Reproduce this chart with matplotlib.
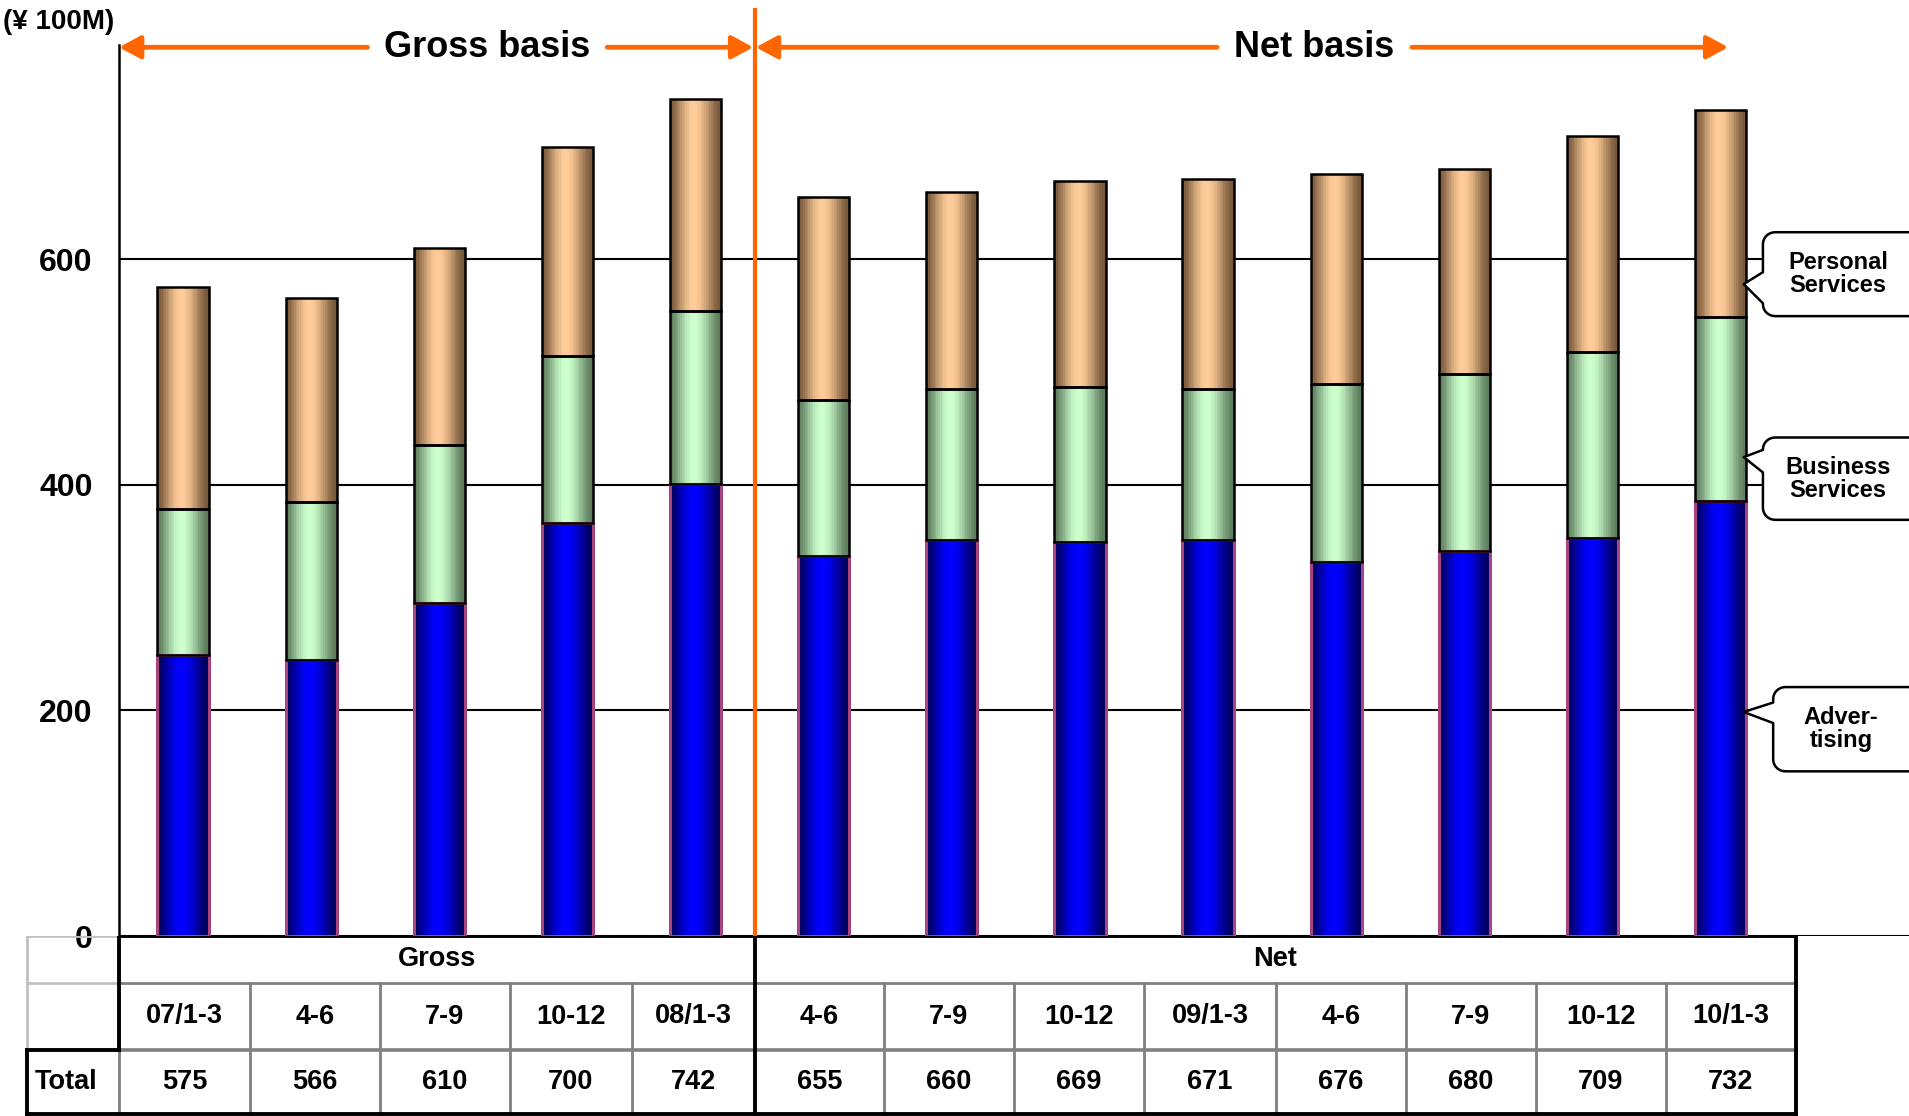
import numpy as np
import matplotlib
matplotlib.use("Agg")
import matplotlib.pyplot as plt
from matplotlib.patches import Polygon

plt.rcParams['font.family'] = ['Liberation Sans', 'DejaVu Sans']

# data (¥100M)
periods = ['07/1-3', '4-6', '7-9', '10-12', '08/1-3',
           '4-6', '7-9', '10-12', '09/1-3', '4-6', '7-9', '10-12', '10/1-3']
advertising = [249, 245, 295, 366, 401, 337, 351, 349, 351, 332, 341, 353, 386]
business = [130, 140, 140, 148, 153, 138, 134, 138, 134, 157, 157, 165, 163]
totals = [575, 566, 610, 700, 742, 655, 660, 669, 671, 676, 680, 709, 732]
personal = [t - a - b for t, a, b in zip(totals, advertising, business)]

ORANGE = '#FF6600'
W, H = 1909, 1116
fig = plt.figure(figsize=(W / 100, H / 100), dpi=100)

x_left, x_right = -0.5, 13.47
ax = fig.add_axes([119 / W, 180 / H, 1 - 119 / W, 891 / H])
x = np.arange(len(periods))
sep = 4.46
bw = 0.4

segments = [
    (advertising, [0] * len(x), (0.0, 0.0, 0.36), (0.0, 0.0, 1.0), '#A8457E', 2.2),
    (business, advertising, (0.36, 0.48, 0.36), (0.80, 1.0, 0.80), 'black', 1.8),
    (personal, [a + b for a, b in zip(advertising, business)],
     (0.46, 0.34, 0.22), (1.0, 0.80, 0.60), 'black', 1.8),
]

# cylinder-like shading: thin vertical strips across each bar
n_strips = 30
tt = (np.arange(n_strips) + 0.5) / n_strips
prof = np.sin(np.pi * tt ** 0.92) ** 1.7
for vals, bottoms, dark, light, ec, elw in segments:
    for k in range(n_strips):
        c = np.array(dark) + (np.array(light) - np.array(dark)) * prof[k]
        off = -bw / 2 + (k + 0.5) * bw / n_strips
        ax.bar(x + off, vals, width=bw / n_strips * 1.05, bottom=bottoms,
               color=tuple(c), linewidth=0, antialiased=False, zorder=2)
    ax.bar(x, vals, width=bw, bottom=bottoms, fill=False,
           edgecolor=ec, linewidth=elw, zorder=3)

ax.set_xlim(x_left, x_right)
ax.set_ylim(0, 790)
ax.set_yticks([0, 200, 400, 600])
ax.set_xticks([])
ax.tick_params(axis='y', length=0, pad=19, labelsize=23)
for lab in ax.get_yticklabels():
    lab.set_fontweight('bold')
ax.yaxis.grid(True, color='black', linewidth=1.5)
ax.set_axisbelow(True)
for s in ['top', 'right', 'bottom']:
    ax.spines[s].set_visible(False)
ax.spines['left'].set_linewidth(1.8)

# orange separator and basis arrows
ax.plot([sep, sep], [0, 821], color=ORANGE, lw=3, clip_on=False, zorder=4)
arrow_y = 788
aprops = dict(arrowstyle='-|>,head_length=1.3,head_width=0.7', color=ORANGE,
              lw=3.4, shrinkA=0, shrinkB=0, mutation_scale=10)
for start, tip in [(1.44, -0.5), (3.31, sep - 0.01), (8.07, sep + 0.01), (9.59, 12.06)]:
    ax.annotate('', xy=(tip, arrow_y), xytext=(start, arrow_y),
                arrowprops=aprops, annotation_clip=False)
ax.text(2.37, arrow_y, 'Gross basis', ha='center', va='center', fontsize=26,
        fontweight='bold', clip_on=False)
ax.text(8.83, arrow_y, 'Net basis', ha='center', va='center', fontsize=26,
        fontweight='bold', clip_on=False)

fig.text(3 / W, 1 - 22 / H, '(¥ 100M)', ha='left', va='center', fontsize=20,
         fontweight='bold')


# speech-bubble callouts: box left edge, box bottom/top, wedge base, wedge tip
def bubble(x0, y0, y1, wb, wt, tip, x1=13.9, rx=0.095, ry=10.5):
    ang = np.linspace(0, np.pi / 2, 8)
    pts = [(x1, y1)]
    pts += [(x0 + rx - rx * np.sin(a), y1 - ry + ry * np.cos(a)) for a in ang]
    pts += [(x0, wt), tip, (x0, wb)]
    pts += [(x0 + rx - rx * np.cos(a), y0 + ry - ry * np.sin(a)) for a in ang]
    pts += [(x1, y0)]
    return pts


callouts = [('Personal\nServices', 12.33, 549.6, 624.0, 561.0, 588.6, (12.18, 578.0)),
            ('Business\nServices', 12.33, 369.0, 442.0, 411.0, 431.0, (12.18, 424.6)),
            ('Adver-\ntising', 12.41, 146.0, 220.7, 188.8, 207.0, (12.18, 198.6))]
for label, bx0, by0, by1, wb, wt, tip in callouts:
    poly = Polygon(bubble(bx0, by0, by1, wb, wt, tip), closed=False, fc='white',
                   ec='black', lw=1.8, clip_on=False, zorder=5, joinstyle='round')
    ax.add_patch(poly)
    ax.text(bx0 + 0.585 if bx0 < 12.4 else bx0 + 0.53, (by0 + by1) / 2, label,
            ha='center', va='center', fontsize=17, fontweight='bold',
            linespacing=1.0, zorder=6, clip_on=False)

# table below the plot, in figure pixel units
tab = fig.add_axes([0, 0, 1, 180 / H])
tab.set_xlim(0, W)
tab.set_ylim(0, 180)
tab.axis('off')
edges = [119, 250, 380, 510, 632, 755, 884, 1014, 1144, 1276, 1406, 1536, 1666, 1796]
t_left, c0, c_sep, t_right = 27, edges[0], edges[5], edges[-1]
y_top, y_r1, y_r2, y_bot = 180, 133, 66, 2

GRAY, LGRAY = '#808080', '#C0C0C0'
for e in edges[1:-1]:
    if e != c_sep:
        tab.plot([e, e], [y_bot, y_r1], color=GRAY, lw=2)
tab.plot([c0, c0], [y_bot, y_r2], color=GRAY, lw=2)
tab.plot([c0, t_right], [y_r1, y_r1], color=GRAY, lw=2)
tab.plot([c0, t_right], [y_r2, y_r2], color=GRAY, lw=2.6)
tab.plot([t_left, c0], [y_top, y_top], color=LGRAY, lw=2)
tab.plot([t_left, c0], [y_r1, y_r1], color=LGRAY, lw=2)
tab.plot([t_left, t_left], [y_r2, y_top], color=LGRAY, lw=2)
blk = dict(color='black', lw=2.8, solid_capstyle='projecting')
tab.plot([c0, t_right], [y_top, y_top], **blk)
tab.plot([t_left, t_right], [y_bot, y_bot], **blk)
tab.plot([t_right, t_right], [y_bot, y_top], **blk)
tab.plot([c_sep, c_sep], [y_bot, y_top], **blk)
tab.plot([c0, c0], [y_r2, y_top], **blk)
tab.plot([t_left, c0], [y_r2, y_r2], **blk)
tab.plot([t_left, t_left], [y_bot, y_r2], **blk)

fs = 19.5
tab.text((c0 + c_sep) / 2, (y_top + y_r1) / 2, 'Gross', ha='center', va='center',
         fontsize=fs, fontweight='bold')
tab.text((c_sep + t_right) / 2, (y_top + y_r1) / 2, 'Net', ha='center', va='center',
         fontsize=fs, fontweight='bold')
tab.text(t_left + 8, (y_r2 + y_bot) / 2, 'Total', ha='left', va='center',
         fontsize=fs, fontweight='bold')
for i, (p, tv) in enumerate(zip(periods, totals)):
    cx = (edges[i] + edges[i + 1]) / 2
    tab.text(cx, (y_r1 + y_r2) / 2, p, ha='center', va='center', fontsize=fs,
             fontweight='bold')
    tab.text(cx, (y_r2 + y_bot) / 2, str(tv), ha='center', va='center', fontsize=fs,
             fontweight='bold')

fig.savefig('out.png', dpi=100)
